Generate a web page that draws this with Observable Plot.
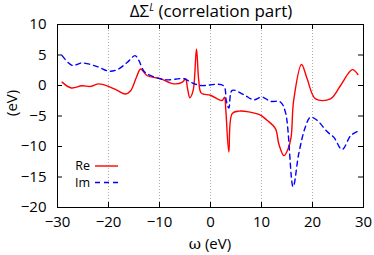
<!DOCTYPE html>
<html><head><meta charset="utf-8">
<script src="https://cdn.jsdelivr.net/npm/d3@7"></script>
<script src="https://cdn.jsdelivr.net/npm/@observablehq/plot@0.6"></script>
<style>body{margin:0;background:#fff}svg{font-family:"Open Sans",sans-serif}</style>
</head><body><div id="c"></div>
<script>
const reX = [-29.1,-27.3,-25.2,-23.5,-21.9,-19.9,-18.3,-16.7,-15.7,-14.5,-13.7,-12.4,-9.8,-7.2,-5.5,-4.9,-4.5,-4.05,-3.4,-2.75,-2.3,-1.8,0,2.3,2.75,3.0,3.6,4.25,5.55,9.5,11.1,12.75,13.4,14.4,15.2,15.8,16.3,17.85,18.95,20.6,23.5,25.5,27.8,28.9];
const reY = [0.55,-0.4,-0.05,-0.15,0.27,-0.17,-0.8,-1.4,-0.9,1.4,2.7,1.6,1.1,0.27,0.55,1.1,-0.5,-2.0,-0.8,6.0,0.8,-1.25,-1.6,-2.46,-1.9,-4,-10.9,-4.6,-4.2,-4.75,-5.7,-7.1,-9.6,-11.5,-10.4,-8.5,-2.5,3.45,1.1,-2.2,-2.2,0,2.6,1.8];
const imX = [-29.1,-27.1,-25.2,-22.2,-19.9,-18.3,-16.3,-14.8,-14.05,-12.9,-10.5,-8.5,-5.2,-3.9,-2,2.5,3.1,3.6,4.25,6.5,8.5,10.1,11.8,13.7,14.7,16.2,17.3,18.6,19.6,20.9,22.9,24.2,25.8,27.5,28.9];
const imY = [4.9,3.3,3.7,3.1,2.35,2.6,3.8,4.9,4.1,2.2,1.26,0.93,1.1,0.55,0,0,-2.5,-3.7,-0.8,-1.5,-2.35,-1.9,-2.6,-2.7,-4.4,-16.6,-11.2,-6.8,-5.2,-5.7,-7.6,-8.5,-10.5,-8.2,-7.5];
const xTicks = [-30,-20,-10,0,10,20,30];
const yTicks = [-20,-15,-10,-5,0,5,10];
const gridX = [-20,-10,0,10,20];
const seriesNames = ["Re","Im"];

const re = reX.map((x,i)=>({x, y: reY[i]}));
const im = imX.map((x,i)=>({x, y: imY[i]}));
const FW = 374-57-11, FH = 255-24-48;

const chart = Plot.plot({
  width: 374, height: 255,
  marginLeft: 57, marginRight: 11, marginTop: 24, marginBottom: 48,
  style: {fontSize: "15px", fontFamily: "Open Sans, sans-serif", color: "#000"},
  x: {domain: [-30,30]},
  y: {domain: [-20,10]},
  marks: [
    Plot.ruleX(gridX, {stroke: "#999", strokeDasharray: "1,2", strokeWidth: 0.8}),
    Plot.axisX({ticks: xTicks, tickSize: 0, tickPadding: 9, label: null, fontSize: 15}),
    Plot.axisY({ticks: yTicks, tickSize: 0, tickPadding: 11, label: null, fontSize: 15}),
    Plot.tickX(xTicks, {x: d=>d, insetTop: FH-5, stroke: "#000"}),
    Plot.tickX(xTicks, {x: d=>d, insetBottom: FH-5, stroke: "#000"}),
    Plot.tickY(yTicks, {y: d=>d, insetRight: FW-5, stroke: "#000"}),
    Plot.tickY(yTicks, {y: d=>d, insetLeft: FW-5, stroke: "#000"}),
    Plot.line(re, {x: "x", y: "y", stroke: "#ff0000", strokeWidth: 1.4, curve: "catmull-rom"}),
    Plot.line(im, {x: "x", y: "y", stroke: "#0000ff", strokeWidth: 1.4, strokeDasharray: "5,4", curve: "catmull-rom"}),
    Plot.frame({stroke: "#000"}),
    Plot.text(["(eV)"], {frameAnchor: "left", dx: -45, rotate: -90, fontSize: 15})
  ]
});
document.getElementById("c").appendChild(chart);
const svg = d3.select(chart);
const xl = svg.append("text").attr("x", 210).attr("y", 244).attr("dy","0.35em").attr("text-anchor","middle")
  .attr("font-size", 15).attr("fill","#000");
xl.append("tspan").attr("font-family","DejaVu Serif, serif").text("ω");
xl.append("tspan").text(" (eV)");
const t = svg.append("text").attr("x", 211).attr("y", 17).attr("text-anchor","middle")
  .attr("font-size", 17).attr("fill","#000");
t.append("tspan").text("ΔΣ");
t.append("tspan").attr("font-size", 10).attr("dy", -6).attr("font-style","italic").text("L");
t.append("tspan").attr("dy", 6).text(" (correlation part)");
const lg = svg.append("g").attr("font-size", 12.5).attr("fill","#000");
const styles = [{stroke:"#ff0000", dash:null},{stroke:"#0000ff", dash:"5,4"}];
seriesNames.forEach((n,i)=>{
  const yy = 166 + i*16.5;
  lg.append("text").attr("x", 90).attr("y", yy).attr("dy","0.35em").attr("text-anchor","end").text(n);
  lg.append("line").attr("x1", 95).attr("x2", 118).attr("y1", yy).attr("y2", yy)
    .attr("stroke", styles[i].stroke).attr("stroke-width", 1.4).attr("stroke-dasharray", styles[i].dash);
});
</script></body></html>
